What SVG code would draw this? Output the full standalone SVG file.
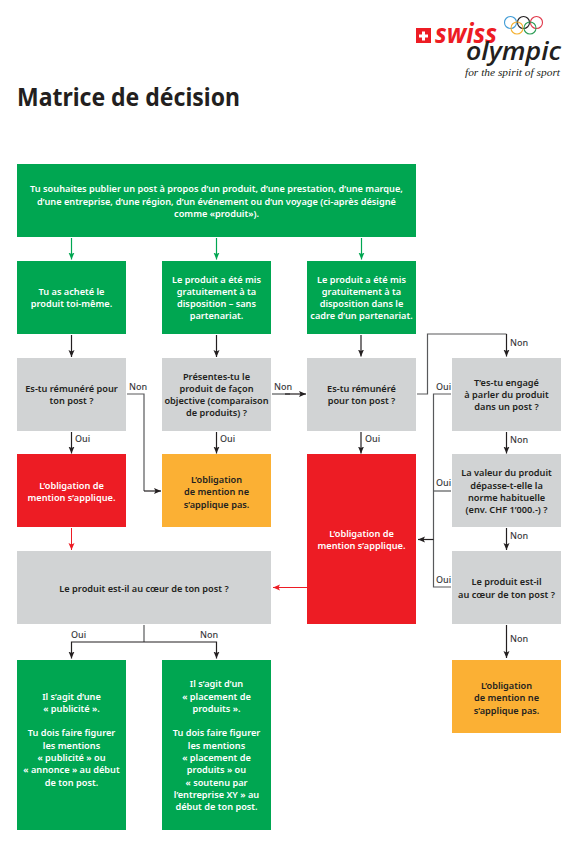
<svg xmlns="http://www.w3.org/2000/svg" width="581" height="855" viewBox="0 0 581 855">
<defs>
<marker id="ak" markerUnits="userSpaceOnUse" markerWidth="8" markerHeight="7" refX="7" refY="3" orient="auto"><path d="M0 0L7 3L0 6L1.500 3Z" fill="#231f20"/></marker>
<marker id="ag" markerUnits="userSpaceOnUse" markerWidth="8" markerHeight="7" refX="7" refY="3" orient="auto"><path d="M0 0L7 3L0 6L1.500 3Z" fill="#00a651"/></marker>
<marker id="ar" markerUnits="userSpaceOnUse" markerWidth="8" markerHeight="7" refX="7" refY="3" orient="auto"><path d="M0 0L7 3L0 6L1.500 3Z" fill="#ed1c24"/></marker>
</defs>
<style>
text{font-family:"Noto Sans","Open Sans","Liberation Sans",sans-serif;font-weight:600;font-size:9.2px;text-anchor:middle}
.g{fill:#00a651}.y{fill:#d1d3d4}.r{fill:#ed1c24}.o{fill:#fbb034}
.w{fill:#fff}.d{fill:#231f20}
.l{font-size:9px;font-weight:500;fill:#3a3a3c;text-anchor:start}
.c{fill:none;stroke-width:1.2}
.k{stroke:#231f20;marker-end:url(#ak)}.kn{stroke:#58595b}
.cg{stroke:#00a651;marker-end:url(#ag)}.cr{stroke:#ed1c24;stroke-width:1;marker-end:url(#ar)}
.ring{fill:none;stroke-width:1.1}
</style>
<rect width="581" height="855" fill="#fff"/>

<g id="logo">
<rect x="416" y="28" width="15" height="15" fill="#ed1c24"/>
<path d="M422 31.500h3v3h3v3h-3v3h-3v-3h-3v-3h3z" fill="#fff"/>
<circle class="ring" cx="510.500" cy="22.500" r="6" stroke="#3f9bd5"/>
<circle class="ring" cx="523.500" cy="22.500" r="6" stroke="#231f20"/>
<circle class="ring" cx="536.500" cy="22.500" r="6" stroke="#e0384a"/>
<circle class="ring" cx="517" cy="28" r="6" stroke="#f5b335"/>
<circle class="ring" cx="530" cy="28" r="6" stroke="#2f9e58"/>
<text x="435" y="43" style="font-family:'Open Sans',sans-serif;font-size:26px;font-style:italic;font-weight:700;fill:#ed1c24;text-anchor:start" textLength="62" lengthAdjust="spacingAndGlyphs">swiss</text>
<text x="466" y="60" style="font-family:'Open Sans',sans-serif;font-size:25px;font-weight:600;font-style:italic;fill:#231f20;text-anchor:start" textLength="95" lengthAdjust="spacingAndGlyphs">olympic</text>
<text x="465" y="76" style="font-family:'Liberation Serif',serif;font-size:10px;font-style:italic;font-weight:400;fill:#231f20;text-anchor:start" textLength="95" lengthAdjust="spacingAndGlyphs">for the spirit of sport</text>
</g>

<text x="17" y="106" class="d" style="font-size:25px;font-weight:700;text-anchor:start" textLength="223" lengthAdjust="spacingAndGlyphs">Matrice de décision</text>

<g id="connectors">
<path class="c cg" d="M71.500 238V259.500"/>
<path class="c cg" d="M216.500 238V259.500"/>
<path class="c cg" d="M361.500 238V259.500"/>
<path class="c k" d="M71.500 335V357"/>
<path class="c k" d="M216.500 335V357"/>
<path class="c k" d="M361 335V356.500"/>
<path class="c k" d="M71.500 432V453.500"/>
<path class="c k" d="M216.500 432V453.500"/>
<path class="c k" d="M361 432V453.500"/>
<path class="c kn" d="M127 394H144V491"/>
<path class="c k" d="M144 491H161"/>
<path class="c kn" d="M272 394H290"/>
<path class="c k" d="M285 394H306"/>
<path class="c cr" d="M71.500 528V550"/>
<path class="c cr" d="M307 587.500H273"/>
<path class="c kn" d="M417 394H427.500V334H506.500"/>
<path class="c k" d="M506.500 334V356.500"/>
<path class="c k" d="M506.500 432V453.500"/>
<path class="c k" d="M506.500 528V550"/>
<path class="c k" d="M506.500 625V658"/>
<path class="c kn" d="M451 394H433.500V587H451"/>
<path class="c kn" d="M433.500 491H451"/>
<path class="c k" d="M433.500 539.500H418"/>
<path class="c kn" d="M144 625V642"/>
<path class="c k" d="M144 642H71.500V658.500"/>
<path class="c k" d="M144 642H216.500V658.500"/>
</g>

<g id="labels">
<text class="l" x="75" y="442">Oui</text>
<text class="l" x="220" y="442">Oui</text>
<text class="l" x="365" y="442">Oui</text>
<text class="l" x="129" y="390">Non</text>
<text class="l" x="274" y="390">Non</text>
<text class="l" x="510" y="346">Non</text>
<text class="l" x="510" y="443">Non</text>
<text class="l" x="510" y="539">Non</text>
<text class="l" x="510" y="642">Non</text>
<text class="l" x="436" y="390">Oui</text>
<text class="l" x="436" y="486">Oui</text>
<text class="l" x="436" y="583">Oui</text>
<text class="l" x="71" y="638">Oui</text>
<text class="l" x="200" y="638">Non</text>
</g>

<g id="n1"><rect class="g" x="17" y="164" width="399" height="73"/>
<text class="w" x="216.500" y="192">Tu souhaites publier un post à propos d’un produit, d’une prestation, d’une marque,</text>
<text class="w" x="216.500" y="204.500">d’une entreprise, d’une région, d’un événement ou d’un voyage (ci-après désigné</text>
<text class="w" x="216.500" y="217">comme «produit»).</text></g>

<g id="n2"><rect class="g" x="17" y="261" width="109" height="73"/>
<text class="w" x="71.500" y="295">Tu as acheté le</text><text class="w" x="71.500" y="307">produit toi-même.</text></g>
<g id="n3"><rect class="g" x="162" y="261" width="109" height="73"/>
<text class="w" x="216.500" y="283">Le produit a été mis</text><text class="w" x="216.500" y="295">gratuitement à ta</text><text class="w" x="216.500" y="307">disposition – sans</text><text class="w" x="216.500" y="319">partenariat.</text></g>
<g id="n4"><rect class="g" x="307" y="261" width="109" height="73"/>
<text class="w" x="361.500" y="283">Le produit a été mis</text><text class="w" x="361.500" y="295">gratuitement à ta</text><text class="w" x="361.500" y="307">disposition dans le</text><text class="w" x="361.500" y="319">cadre d’un partenariat.</text></g>

<g id="n5"><rect class="y" x="17" y="358" width="109" height="73"/>
<text class="d" x="71.500" y="392">Es-tu rémunéré pour</text><text class="d" x="71.500" y="404">ton post ?</text></g>
<g id="n6"><rect class="y" x="162" y="358" width="109" height="73"/>
<text class="d" x="216.500" y="380">Présentes-tu le</text><text class="d" x="216.500" y="392">produit de façon</text><text class="d" x="216.500" y="404">objective (comparaison</text><text class="d" x="216.500" y="416">de produits) ?</text></g>
<g id="n7"><rect class="y" x="307" y="358" width="109" height="73"/>
<text class="d" x="361.500" y="392">Es-tu rémunéré</text><text class="d" x="361.500" y="404">pour ton post ?</text></g>
<g id="n8"><rect class="y" x="452" y="358" width="109" height="73"/>
<text class="d" x="506.500" y="386">T’es-tu engagé</text><text class="d" x="506.500" y="398">à parler du produit</text><text class="d" x="506.500" y="410">dans un post ?</text></g>

<g id="n9"><rect class="r" x="17" y="454" width="109" height="73"/>
<text class="w" x="71.500" y="489">L’obligation de</text><text class="w" x="71.500" y="501">mention s’applique.</text></g>
<g id="n10"><rect class="o" x="162" y="454" width="109" height="73"/>
<text class="d" x="216.500" y="483">L’obligation</text><text class="d" x="216.500" y="495">de mention ne</text><text class="d" x="216.500" y="507.500">s’applique pas.</text></g>
<g id="n11"><rect class="r" x="307" y="454" width="109" height="170"/>
<text class="w" x="361.500" y="537">L’obligation de</text><text class="w" x="361.500" y="549">mention s’applique.</text></g>
<g id="n12"><rect class="y" x="452" y="454" width="109" height="73"/>
<text class="d" x="506.500" y="476">La valeur du produit</text><text class="d" x="506.500" y="489">dépasse-t-elle la</text><text class="d" x="506.500" y="501">norme habituelle</text><text class="d" x="506.500" y="513">(env. CHF 1’000.-) ?</text></g>

<g id="n13"><rect class="y" x="17" y="551" width="254" height="73"/>
<text class="d" x="144" y="592">Le produit est-il au cœur de ton post ?</text></g>
<g id="n14"><rect class="y" x="452" y="551" width="109" height="73"/>
<text class="d" x="506.500" y="585">Le produit est-il</text><text class="d" x="506.500" y="598">au cœur de ton post ?</text></g>

<g id="n15"><rect class="g" x="17" y="660" width="109" height="170"/>
<text class="w" x="71.500" y="700">Il s’agit d’une</text><text class="w" x="71.500" y="712">« publicité ».</text>
<text class="w" x="71.500" y="736">Tu dois faire figurer</text><text class="w" x="71.500" y="749">les mentions</text><text class="w" x="71.500" y="761">« publicité » ou</text><text class="w" x="71.500" y="773">« annonce » au début</text><text class="w" x="71.500" y="786">de ton post.</text></g>
<g id="n16"><rect class="g" x="162" y="660" width="109" height="170"/>
<text class="w" x="216.500" y="687">Il s’agit d’un</text><text class="w" x="216.500" y="700">« placement de</text><text class="w" x="216.500" y="712">produits ».</text>
<text class="w" x="216.500" y="736">Tu dois faire figurer</text><text class="w" x="216.500" y="749">les mentions</text><text class="w" x="216.500" y="761">« placement de</text><text class="w" x="216.500" y="773">produits » ou</text><text class="w" x="216.500" y="786">« soutenu par</text><text class="w" x="216.500" y="798">l’entreprise XY » au</text><text class="w" x="216.500" y="810">début de ton post.</text></g>
<g id="n17"><rect class="o" x="452" y="660" width="109" height="73"/>
<text class="d" x="506.500" y="689">L’obligation</text><text class="d" x="506.500" y="701">de mention ne</text><text class="d" x="506.500" y="713.500">s’applique pas.</text></g>
</svg>
